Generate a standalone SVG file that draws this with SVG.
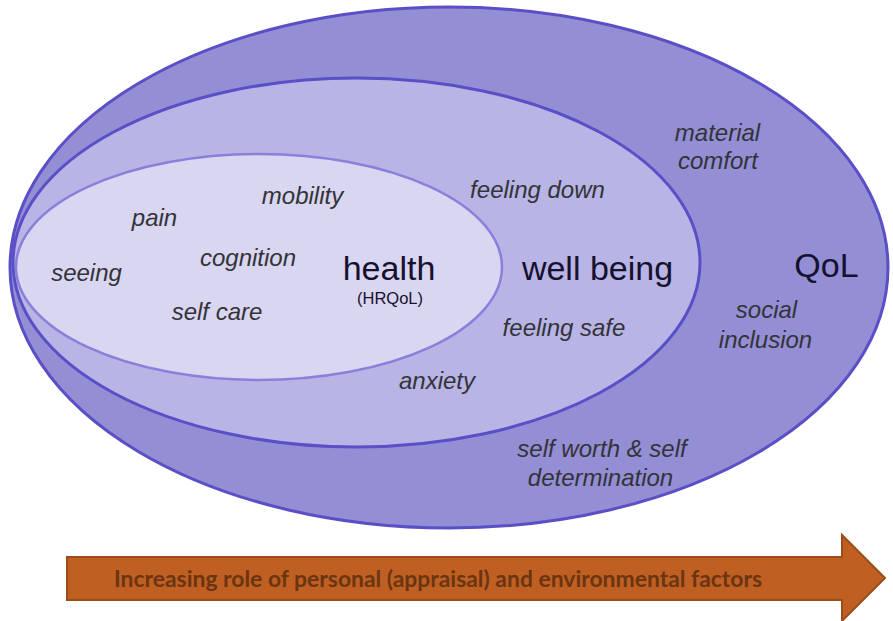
<svg xmlns="http://www.w3.org/2000/svg" width="893" height="621" viewBox="0 0 893 621">
  <style>
    .lbl { font-family: "Liberation Sans", Arial, sans-serif; font-style: italic; font-size: 24px; fill: #333338; text-anchor: middle; }
    .big { font-family: "Liberation Sans", Arial, sans-serif; font-size: 34px; fill: #15112e; text-anchor: middle; }
    .small { font-family: "Liberation Sans", Arial, sans-serif; font-size: 16.5px; fill: #15112e; text-anchor: middle; }
    .arrowtxt { font-family: "Lato", "Open Sans", sans-serif; font-weight: bold; font-size: 22px; fill: #6b3512; text-anchor: middle; }
  </style>
  <rect width="893" height="621" fill="#ffffff"/>

  <!-- Quality of life: outer ring -->
  <g id="qol">
    <ellipse cx="449" cy="267.5" rx="439" ry="260.5" fill="#948ed5" stroke="#5a4fc6" stroke-width="3"/>
    <text class="big" x="826.5" y="277">QoL</text>
    <text class="lbl" x="717.5" y="141">material</text>
    <text class="lbl" x="718" y="169">comfort</text>
    <text class="lbl" x="766.5" y="318">social</text>
    <text class="lbl" x="765.5" y="348">inclusion</text>
    <text class="lbl" x="602" y="457">self worth &amp; self</text>
    <text class="lbl" x="600.5" y="486">determination</text>
  </g>

  <!-- Well being: middle ring -->
  <g id="wellbeing">
    <ellipse cx="356.5" cy="262.5" rx="343.5" ry="184.5" fill="#b8b4e5" stroke="#5a4fc6" stroke-width="3"/>
    <text class="big" x="597.5" y="280">well being</text>
    <text class="lbl" x="537.5" y="198">feeling down</text>
    <text class="lbl" x="564" y="336">feeling safe</text>
    <text class="lbl" x="437" y="389">anxiety</text>
  </g>

  <!-- Health (HRQoL): inner core -->
  <g id="health">
    <ellipse cx="259" cy="267" rx="243" ry="113" fill="#d9d6f2" stroke="#8a80db" stroke-width="2.5"/>
    <text class="big" x="389" y="280">health</text>
    <text class="small" x="390" y="304">(HRQoL)</text>
    <text class="lbl" x="154.5" y="226">pain</text>
    <text class="lbl" x="302.5" y="204">mobility</text>
    <text class="lbl" x="248" y="266">cognition</text>
    <text class="lbl" x="86.5" y="281">seeing</text>
    <text class="lbl" x="217" y="320">self care</text>
  </g>

  <!-- Direction arrow along the bottom -->
  <g id="connectors">
    <path d="M67,557 H842 V535 L885,578 L842,621 V600 H67 Z" fill="#c05f22" stroke="#9a4d1a" stroke-width="2"/>
    <text class="arrowtxt" x="438" y="587" textLength="648" lengthAdjust="spacingAndGlyphs">Increasing role of personal (appraisal) and environmental factors</text>
  </g>
</svg>
